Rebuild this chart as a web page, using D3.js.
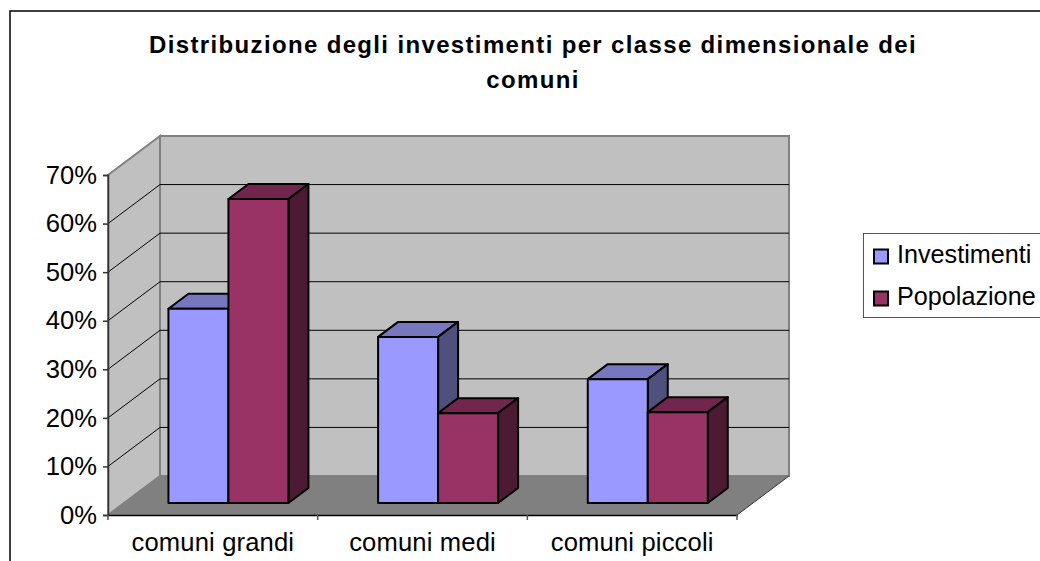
<!DOCTYPE html>
<html>
<head>
<meta charset="utf-8">
<script src="https://cdn.jsdelivr.net/npm/d3@7"></script>
<style>
body { margin: 0; background: #fff; }
svg { display: block; font-family: "Liberation Sans", Arial, sans-serif; }
</style>
</head>
<body>
<svg width="1040" height="561"></svg>
<script>
var categories = ["comuni grandi", "comuni medi", "comuni piccoli"];
var seriesNames = ["Investimenti", "Popolazione"];
var investimenti = [0.40, 0.342, 0.255];
var popolazione = [0.626, 0.185, 0.187];
var tickValues = [0, 0.1, 0.2, 0.3, 0.4, 0.5, 0.6, 0.7];
var titleLines = ["Distribuzione degli investimenti per classe dimensionale dei", "comuni"];

var colors = ["#9999ff", "#993366"];
var topColors = ["#7777c0", "#73264d"];
var sideColors = ["#50507f", "#4d1a33"];

var svg = d3.select("svg");

// front edge of the box
var x = d3.scaleBand().domain(categories).range([108, 737]);
var y = d3.scaleLinear().domain([0, 0.7]).range([515, 175]);

// chart depth and bar depth, in pixels
var depthX = 52, depthY = -39;
var barDepthX = 20, barDepthY = -15;
var barShiftX = 15.6, barShiftY = -12;
var barWidth = 60;
var labelSize = 25.6;

// outer border
svg.append("rect")
    .attr("x", 10).attr("y", 11)
    .attr("width", 1100).attr("height", 600)
    .attr("fill", "#fff")
    .attr("stroke", "#000")
    .attr("stroke-width", 1.5);

var title = svg.append("text")
    .attr("text-anchor", "middle")
    .attr("font-size", 24)
    .attr("font-weight", "bold")
    .attr("letter-spacing", 1.35);
titleLines.forEach(function(line, i) {
    title.append("tspan")
        .attr("x", 533)
        .attr("y", 53 + i * 35)
        .text(line);
});

function pts(list) {
    return list.map(function(p) { return p.join(","); }).join(" ");
}

var x0 = x.range()[0], x1 = x.range()[1];
var yBase = y(0), yTop = y(0.7);

// walls
svg.append("polygon")
    .attr("points", pts([[x0 + depthX, yTop + depthY], [x1 + depthX, yTop + depthY], [x1 + depthX, yBase + depthY], [x0 + depthX, yBase + depthY]]))
    .attr("fill", "#c0c0c0")
    .attr("stroke", "#808080")
    .attr("stroke-width", 2);
svg.append("polygon")
    .attr("points", pts([[x0, yTop], [x0 + depthX, yTop + depthY], [x0 + depthX, yBase + depthY], [x0, yBase]]))
    .attr("fill", "#c0c0c0")
    .attr("stroke", "#808080")
    .attr("stroke-width", 2);

// gridlines
svg.append("g").selectAll("polyline")
    .data(tickValues.slice(1, -1))
    .join("polyline")
    .attr("points", function(d) {
        return pts([[x0, y(d)], [x0 + depthX, y(d) + depthY], [x1 + depthX, y(d) + depthY]]);
    })
    .attr("fill", "none")
    .attr("stroke", "#000")
    .attr("stroke-width", 1);

// floor
svg.append("polygon")
    .attr("points", pts([[x0, yBase], [x1, yBase], [x1 + depthX, yBase + depthY], [x0 + depthX, yBase + depthY]]))
    .attr("fill", "#808080");

// axes
var yAxis = d3.axisLeft(y)
    .tickValues(tickValues)
    .tickFormat(d3.format(".0%"))
    .tickSize(5)
    .tickPadding(6);
var gy = svg.append("g")
    .attr("transform", "translate(" + x0 + ",0)")
    .call(yAxis);
gy.select(".domain").attr("stroke", "#333").attr("stroke-width", 1.5);
gy.selectAll("line").attr("stroke", "#333").attr("stroke-width", 1.5);
gy.selectAll("text").attr("font-size", labelSize).attr("font-family", null).attr("fill", "#000");

var xAxis = d3.axisBottom(x).tickSize(0).tickPadding(18);
var gx = svg.append("g")
    .attr("transform", "translate(0," + yBase + ")")
    .call(xAxis);
gx.select(".domain").attr("stroke", "#000").attr("stroke-width", 1.5);
gx.selectAll("text").attr("font-size", labelSize).attr("font-family", null).attr("fill", "#000").attr("letter-spacing", 0.15);
svg.append("g").selectAll("line")
    .data(d3.range(categories.length + 1))
    .join("line")
    .attr("x1", function(i) { return x0 + i * x.step(); })
    .attr("x2", function(i) { return x0 + i * x.step(); })
    .attr("y1", yBase)
    .attr("y2", yBase + 5)
    .attr("stroke", "#555")
    .attr("stroke-width", 1.5);

// floor right edge sits above the axis ticks
svg.append("line")
    .attr("x1", x1).attr("y1", yBase)
    .attr("x2", x1 + depthX).attr("y2", yBase + depthY)
    .attr("stroke", "#333")
    .attr("stroke-width", 1);

// bars, back to front inside each group
var rows = [];
categories.forEach(function(c, i) {
    seriesNames.forEach(function(s, j) {
        rows.push({cat: c, series: j, value: (j === 0 ? investimenti : popolazione)[i]});
    });
});

var bars = svg.append("g").selectAll("g")
    .data(rows)
    .join("g")
    .attr("stroke", "#000")
    .attr("stroke-width", 2)
    .attr("stroke-linejoin", "round");

function barLeft(d) {
    return x(d.cat) + x.bandwidth() / 2 + barShiftX + (d.series - 1) * barWidth;
}
function barBottom() { return yBase + barShiftY; }
function barTop(d) { return barBottom() - (yBase - y(d.value)); }

bars.append("polygon")
    .attr("points", function(d) {
        var l = barLeft(d), r = l + barWidth, t = barTop(d);
        return pts([[l, t], [l + barDepthX, t + barDepthY], [r + barDepthX, t + barDepthY], [r, t]]);
    })
    .attr("fill", function(d) { return topColors[d.series]; });
bars.append("polygon")
    .attr("points", function(d) {
        var r = barLeft(d) + barWidth, t = barTop(d), b = barBottom();
        return pts([[r, t], [r + barDepthX, t + barDepthY], [r + barDepthX, b + barDepthY], [r, b]]);
    })
    .attr("fill", function(d) { return sideColors[d.series]; });
bars.append("rect")
    .attr("x", barLeft)
    .attr("y", barTop)
    .attr("width", barWidth)
    .attr("height", function(d) { return barBottom() - barTop(d); })
    .attr("fill", function(d) { return colors[d.series]; });

// legend
svg.append("rect")
    .attr("x", 863.5).attr("y", 233.5)
    .attr("width", 300).attr("height", 84)
    .attr("fill", "#fff")
    .attr("stroke", "#555")
    .attr("stroke-width", 1);
var legend = svg.append("g").selectAll("g")
    .data(seriesNames)
    .join("g")
    .attr("transform", function(d, i) { return "translate(874," + (249.5 + i * 42) + ")"; });
legend.append("rect")
    .attr("width", 14).attr("height", 14)
    .attr("fill", function(d, i) { return colors[i]; })
    .attr("stroke", "#000")
    .attr("stroke-width", 2);
legend.append("text")
    .attr("x", 23).attr("y", 13)
    .attr("font-size", 25.2)
    .text(function(d) { return d; });
</script>
</body>
</html>
